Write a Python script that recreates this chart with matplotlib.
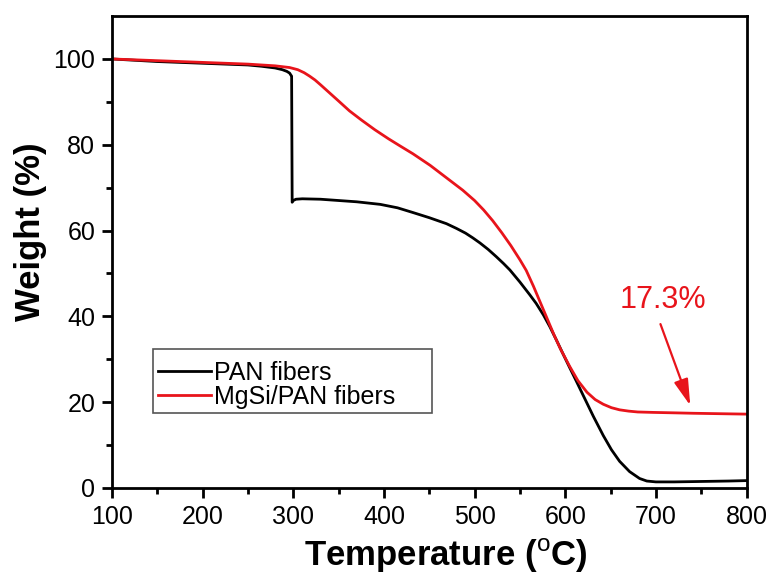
import matplotlib
matplotlib.use("Agg")
import matplotlib.pyplot as plt
from matplotlib.patches import Rectangle

plt.rcParams['font.family'] = ['Liberation Sans', 'DejaVu Sans']
plt.rcParams['mathtext.fontset'] = 'custom'
plt.rcParams['mathtext.rm'] = 'Liberation Sans'

pan_T = [100, 125, 150, 175, 200, 225, 250, 265, 280, 288, 293, 296, 297.5, 298.2, 298.8, 300, 303,
         310, 330, 350, 370, 396, 415, 432, 450, 469, 480, 490, 498, 506, 515, 524, 532, 539, 550, 561,
         568, 576, 583, 590, 597, 605, 612, 620, 631, 642, 651, 660, 671, 682, 690, 700, 720, 750, 780, 800]
pan_W = [100, 99.7, 99.4, 99.2, 99.0, 98.8, 98.6, 98.3, 97.9, 97.5, 97.1, 96.7, 96.2, 96.0, 66.6, 67.0, 67.3,
         67.4, 67.3, 67.0, 66.7, 66.1, 65.3, 64.2, 63.0, 61.6, 60.5, 59.4, 58.3, 57.1, 55.6, 53.9, 52.3, 50.8,
         48.0, 45.0, 43.0, 40.3, 37.6, 34.6, 31.5, 28.0, 25.0, 21.5, 16.7, 12.2, 8.9, 6.2, 3.8, 2.2, 1.6, 1.4,
         1.4, 1.5, 1.6, 1.7]

mgsi_T = [100, 150, 200, 250, 280, 296, 305, 312, 318, 324, 330, 340, 350, 362, 375, 390, 405, 418, 432,
          451, 469, 487, 500, 510, 520, 530, 535, 540, 550, 557, 565, 572, 580, 588, 595, 605, 614, 624,
          633, 642, 651, 660, 670, 680, 697, 720, 741, 770, 800]
mgsi_W = [100, 99.6, 99.2, 98.8, 98.4, 98.0, 97.5, 96.8, 96.0, 95.1, 94.0, 92.1, 90.2, 87.9, 85.8, 83.5, 81.4,
          79.7, 77.9, 75.2, 72.3, 69.4, 67.0, 64.8, 62.3, 59.5, 58.0, 56.5, 53.2, 50.7, 47.0, 43.5, 39.5, 35.5,
          32.3, 28.3, 25.0, 22.3, 20.6, 19.5, 18.7, 18.2, 17.9, 17.7, 17.6, 17.5, 17.4, 17.3, 17.2]

labels = ['PAN fibers', 'MgSi/PAN fibers']
residue_label = '17.3%'

fig = plt.figure(figsize=(7.72, 5.74), dpi=100)
ax = fig.add_axes([0.145, 0.150, 0.822, 0.822])

ax.plot(pan_T, pan_W, color='black', lw=2.0, label=labels[0])
ax.plot(mgsi_T, mgsi_W, color='#e8141b', lw=2.0, label=labels[1])

ax.set_xlim(100, 800)
ax.set_ylim(0, 110)
ax.set_xticks(range(100, 801, 100))
ax.set_xticks(range(150, 800, 100), minor=True)
ax.set_yticks(range(0, 101, 20))
ax.set_yticks(range(10, 101, 20), minor=True)

for s in ax.spines.values():
    s.set_linewidth(2.0)
ax.tick_params(which='major', direction='out', length=7, width=2, labelsize=18, pad=5,
               top=False, right=False)
ax.tick_params(which='minor', direction='out', length=4, width=2, top=False, right=False)

ax.set_xlabel(r'Temperature ($^{\mathrm{o}}$C)', fontsize=25, fontweight='bold', va='center')
ax.xaxis.set_label_coords(0.526, -0.145)
ax.set_ylabel('Weight (%)', fontsize=25, fontweight='bold', va='center')
ax.yaxis.set_label_coords(-0.128, 0.542)

# legend frame (wider than its content, as in the reference)
ax.add_patch(Rectangle((0.065, 0.158), 0.44, 0.136, transform=ax.transAxes,
                       facecolor='white', edgecolor='#555555', lw=1.2, zorder=4))
leg = ax.legend(loc='lower left', bbox_to_anchor=(0.067, 0.160), fontsize=18,
                frameon=False, handlelength=2.1,
                handletextpad=0.15, borderpad=0.15, labelspacing=0.0, borderaxespad=0)
leg.set_zorder(5)

ax.annotate('', xy=(739, 18.6), xytext=(704, 38.8),
            arrowprops=dict(arrowstyle='-|>,head_length=0.8,head_width=0.22',
                            color='#e8141b', lw=1.6, mutation_scale=20))
ax.text(708, 43.9, residue_label, color='#e8141b', fontsize=22, ha='center', va='center')

fig.savefig('out.png', dpi=100)
